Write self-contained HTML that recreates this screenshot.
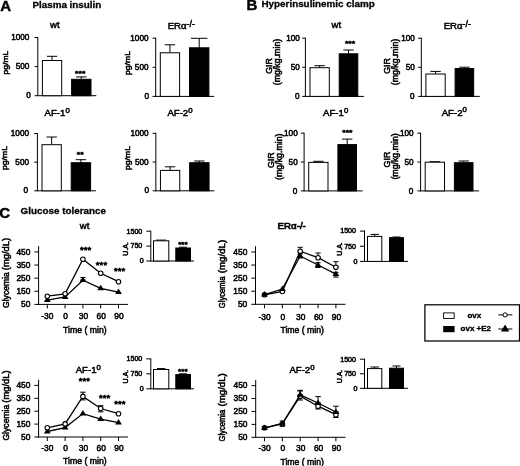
<!DOCTYPE html>
<html><head><meta charset="utf-8"><title>Figure</title>
<style>
html,body{margin:0;padding:0;background:#fff;}
body{width:520px;height:466px;overflow:hidden;}
svg{display:block;font-family:"Liberation Sans",sans-serif;fill:#000;}
</style></head><body>
<svg width="520" height="466" viewBox="0 0 520 466">
<rect x="0" y="0" width="520" height="466" fill="#fff"/>

<text transform="translate(0.20 10.50)" font-size="15" text-anchor="start" font-weight="bold" stroke="#000" stroke-width="0.45">A</text>
<text transform="translate(32.40 7.60)" font-size="9.85" text-anchor="start" font-weight="bold" stroke="#000" stroke-width="0.3">Plasma insulin</text>
<text transform="translate(246.40 10.30)" font-size="15" text-anchor="start" font-weight="bold" stroke="#000" stroke-width="0.45">B</text>
<text transform="translate(261.50 7.40)" font-size="9.85" text-anchor="start" font-weight="bold" stroke="#000" stroke-width="0.3">Hyperinsulinemic clamp</text>
<text transform="translate(-0.70 218.00)" font-size="15" text-anchor="start" font-weight="bold" stroke="#000" stroke-width="0.45">C</text>
<text transform="translate(20.60 214.00)" font-size="9.85" text-anchor="start" font-weight="bold" stroke="#000" stroke-width="0.3">Glucose tolerance</text>
<line x1="37.80" y1="37.00" x2="37.80" y2="96.20" stroke="#000" stroke-width="1.0"/>
<line x1="34.60" y1="95.70" x2="96.30" y2="95.70" stroke="#000" stroke-width="1.0"/>
<text transform="translate(30.90 98.37)" font-size="8.2" text-anchor="end" stroke="#000" stroke-width="0.5">0</text>
<line x1="34.60" y1="66.60" x2="37.80" y2="66.60" stroke="#000" stroke-width="1.0"/>
<text transform="translate(29.40 69.27)" font-size="8.2" text-anchor="end" stroke="#000" stroke-width="0.5">500</text>
<line x1="34.60" y1="37.50" x2="37.80" y2="37.50" stroke="#000" stroke-width="1.0"/>
<text transform="translate(29.40 40.16)" font-size="8.2" text-anchor="end" stroke="#000" stroke-width="0.5">1000</text>
<line x1="52.05" y1="56.30" x2="52.05" y2="60.50" stroke="#000" stroke-width="1.0"/>
<line x1="46.85" y1="56.30" x2="57.25" y2="56.30" stroke="#000" stroke-width="1.0"/>
<rect x="42.40" y="60.50" width="19.30" height="35.20" fill="#fff" stroke="#000" stroke-width="1.0"/>
<line x1="81.30" y1="76.90" x2="81.30" y2="79.30" stroke="#000" stroke-width="1.0"/>
<line x1="76.10" y1="76.90" x2="86.50" y2="76.90" stroke="#000" stroke-width="1.0"/>
<rect x="71.60" y="79.30" width="19.40" height="16.40" fill="#000" stroke="#000" stroke-width="1.0"/>
<text transform="translate(50.00 27.90)" font-size="9.6" text-anchor="start" stroke="#000" stroke-width="0.5">wt</text>
<text transform="translate(80.20 75.54) scale(1.1 1)" font-size="8.0" text-anchor="middle" stroke="#000" stroke-width="0.6">***</text>
<text transform="translate(8.10 62.60) rotate(-90) scale(1.13 1)" font-size="7.6" text-anchor="middle" stroke="#000" stroke-width="0.5">pg/mL</text>
<line x1="155.70" y1="37.70" x2="155.70" y2="96.90" stroke="#000" stroke-width="1.0"/>
<line x1="152.50" y1="96.40" x2="214.20" y2="96.40" stroke="#000" stroke-width="1.0"/>
<text transform="translate(149.00 99.07)" font-size="8.2" text-anchor="end" stroke="#000" stroke-width="0.5">0</text>
<line x1="152.50" y1="67.30" x2="155.70" y2="67.30" stroke="#000" stroke-width="1.0"/>
<text transform="translate(148.50 69.97)" font-size="8.2" text-anchor="end" stroke="#000" stroke-width="0.5">500</text>
<line x1="152.50" y1="38.20" x2="155.70" y2="38.20" stroke="#000" stroke-width="1.0"/>
<text transform="translate(148.50 40.87)" font-size="8.2" text-anchor="end" stroke="#000" stroke-width="0.5">1000</text>
<line x1="169.95" y1="44.80" x2="169.95" y2="52.80" stroke="#000" stroke-width="1.0"/>
<line x1="164.75" y1="44.80" x2="175.15" y2="44.80" stroke="#000" stroke-width="1.0"/>
<rect x="160.30" y="52.80" width="19.30" height="43.60" fill="#fff" stroke="#000" stroke-width="1.0"/>
<line x1="199.20" y1="38.30" x2="199.20" y2="47.80" stroke="#000" stroke-width="1.0"/>
<line x1="191.00" y1="38.30" x2="207.40" y2="38.30" stroke="#000" stroke-width="1.0"/>
<rect x="189.50" y="47.80" width="19.40" height="48.60" fill="#000" stroke="#000" stroke-width="1.0"/>
<text transform="translate(167.70 28.60)" font-size="9.6" text-anchor="start" stroke="#000" stroke-width="0.5">ERα<tspan dy="-1.5" font-size="8.8">-/-</tspan></text>
<text transform="translate(129.80 63.00) rotate(-90) scale(1.13 1)" font-size="7.6" text-anchor="middle" stroke="#000" stroke-width="0.5">pg/mL</text>
<line x1="37.40" y1="133.00" x2="37.40" y2="191.30" stroke="#000" stroke-width="1.0"/>
<line x1="34.20" y1="190.80" x2="95.90" y2="190.80" stroke="#000" stroke-width="1.0"/>
<text transform="translate(28.10 193.47)" font-size="8.2" text-anchor="end" stroke="#000" stroke-width="0.5">0</text>
<line x1="34.20" y1="162.15" x2="37.40" y2="162.15" stroke="#000" stroke-width="1.0"/>
<text transform="translate(29.00 164.81)" font-size="8.2" text-anchor="end" stroke="#000" stroke-width="0.5">500</text>
<line x1="34.20" y1="133.50" x2="37.40" y2="133.50" stroke="#000" stroke-width="1.0"/>
<text transform="translate(29.00 136.16)" font-size="8.2" text-anchor="end" stroke="#000" stroke-width="0.5">1000</text>
<line x1="51.65" y1="137.00" x2="51.65" y2="144.70" stroke="#000" stroke-width="1.0"/>
<line x1="46.45" y1="137.00" x2="56.85" y2="137.00" stroke="#000" stroke-width="1.0"/>
<rect x="42.00" y="144.70" width="19.30" height="46.10" fill="#fff" stroke="#000" stroke-width="1.0"/>
<line x1="80.90" y1="159.70" x2="80.90" y2="162.70" stroke="#000" stroke-width="1.0"/>
<line x1="75.70" y1="159.70" x2="86.10" y2="159.70" stroke="#000" stroke-width="1.0"/>
<rect x="71.20" y="162.70" width="19.40" height="28.10" fill="#000" stroke="#000" stroke-width="1.0"/>
<text transform="translate(44.60 115.80)" font-size="9.6" text-anchor="start" stroke="#000" stroke-width="0.5">AF-1<tspan dy="-3.2" font-size="7.8">0</tspan></text>
<text transform="translate(80.20 156.74) scale(1.1 1)" font-size="8.0" text-anchor="middle" stroke="#000" stroke-width="0.6">**</text>
<text transform="translate(6.70 158.00) rotate(-90) scale(1.13 1)" font-size="7.6" text-anchor="middle" stroke="#000" stroke-width="0.5">pg/mL</text>
<line x1="155.85" y1="132.80" x2="155.85" y2="191.30" stroke="#000" stroke-width="1.0"/>
<line x1="152.65" y1="190.80" x2="214.35" y2="190.80" stroke="#000" stroke-width="1.0"/>
<text transform="translate(149.15 193.47)" font-size="8.2" text-anchor="end" stroke="#000" stroke-width="0.5">0</text>
<line x1="152.65" y1="162.05" x2="155.85" y2="162.05" stroke="#000" stroke-width="1.0"/>
<text transform="translate(148.65 164.72)" font-size="8.2" text-anchor="end" stroke="#000" stroke-width="0.5">500</text>
<line x1="152.65" y1="133.30" x2="155.85" y2="133.30" stroke="#000" stroke-width="1.0"/>
<text transform="translate(148.65 135.97)" font-size="8.2" text-anchor="end" stroke="#000" stroke-width="0.5">1000</text>
<line x1="170.10" y1="166.80" x2="170.10" y2="170.40" stroke="#000" stroke-width="1.0"/>
<line x1="164.90" y1="166.80" x2="175.30" y2="166.80" stroke="#000" stroke-width="1.0"/>
<rect x="160.45" y="170.40" width="19.30" height="20.40" fill="#fff" stroke="#000" stroke-width="1.0"/>
<line x1="199.35" y1="161.00" x2="199.35" y2="162.70" stroke="#000" stroke-width="1.0"/>
<line x1="194.15" y1="161.00" x2="204.55" y2="161.00" stroke="#000" stroke-width="1.0"/>
<rect x="189.65" y="162.70" width="19.40" height="28.10" fill="#000" stroke="#000" stroke-width="1.0"/>
<text transform="translate(167.40 115.80)" font-size="9.6" text-anchor="start" stroke="#000" stroke-width="0.5">AF-2<tspan dy="-3.2" font-size="7.8">0</tspan></text>
<text transform="translate(129.60 158.00) rotate(-90) scale(1.13 1)" font-size="7.6" text-anchor="middle" stroke="#000" stroke-width="0.5">pg/mL</text>
<line x1="305.40" y1="37.70" x2="305.40" y2="96.90" stroke="#000" stroke-width="1.0"/>
<line x1="302.20" y1="96.40" x2="363.90" y2="96.40" stroke="#000" stroke-width="1.0"/>
<text transform="translate(299.50 99.07)" font-size="8.2" text-anchor="end" stroke="#000" stroke-width="0.5">0</text>
<line x1="302.20" y1="67.30" x2="305.40" y2="67.30" stroke="#000" stroke-width="1.0"/>
<text transform="translate(299.80 69.97)" font-size="8.2" text-anchor="end" stroke="#000" stroke-width="0.5">50</text>
<line x1="302.20" y1="38.20" x2="305.40" y2="38.20" stroke="#000" stroke-width="1.0"/>
<text transform="translate(299.80 40.87)" font-size="8.2" text-anchor="end" stroke="#000" stroke-width="0.5">100</text>
<line x1="319.65" y1="65.70" x2="319.65" y2="67.70" stroke="#000" stroke-width="1.0"/>
<line x1="314.45" y1="65.70" x2="324.85" y2="65.70" stroke="#000" stroke-width="1.0"/>
<rect x="310.00" y="67.70" width="19.30" height="28.70" fill="#fff" stroke="#000" stroke-width="1.0"/>
<line x1="348.50" y1="50.00" x2="348.50" y2="53.80" stroke="#000" stroke-width="1.0"/>
<line x1="343.30" y1="50.00" x2="353.70" y2="50.00" stroke="#000" stroke-width="1.0"/>
<rect x="339.20" y="53.80" width="18.60" height="42.60" fill="#000" stroke="#000" stroke-width="1.0"/>
<text transform="translate(331.50 28.00)" font-size="9.6" text-anchor="start" stroke="#000" stroke-width="0.5">wt</text>
<text transform="translate(350.00 46.04) scale(1.1 1)" font-size="8.0" text-anchor="middle" stroke="#000" stroke-width="0.6">***</text>
<text transform="translate(272.10 65.90) rotate(-90) scale(1.07 1)" font-size="8.3" text-anchor="middle" stroke="#000" stroke-width="0.5">GIR</text>
<text transform="translate(279.80 62.00) rotate(-90) scale(1.06 1)" font-size="8.3" text-anchor="middle" stroke="#000" stroke-width="0.5">(mg/kg.min)</text>
<line x1="421.30" y1="37.70" x2="421.30" y2="96.90" stroke="#000" stroke-width="1.0"/>
<line x1="418.10" y1="96.40" x2="479.80" y2="96.40" stroke="#000" stroke-width="1.0"/>
<text transform="translate(414.50 99.07)" font-size="8.2" text-anchor="end" stroke="#000" stroke-width="0.5">0</text>
<line x1="418.10" y1="67.30" x2="421.30" y2="67.30" stroke="#000" stroke-width="1.0"/>
<text transform="translate(414.80 69.97)" font-size="8.2" text-anchor="end" stroke="#000" stroke-width="0.5">50</text>
<line x1="418.10" y1="38.20" x2="421.30" y2="38.20" stroke="#000" stroke-width="1.0"/>
<text transform="translate(414.80 40.87)" font-size="8.2" text-anchor="end" stroke="#000" stroke-width="0.5">100</text>
<line x1="435.55" y1="71.40" x2="435.55" y2="74.00" stroke="#000" stroke-width="1.0"/>
<line x1="430.35" y1="71.40" x2="440.75" y2="71.40" stroke="#000" stroke-width="1.0"/>
<rect x="425.90" y="74.00" width="19.30" height="22.40" fill="#fff" stroke="#000" stroke-width="1.0"/>
<line x1="464.40" y1="67.20" x2="464.40" y2="68.50" stroke="#000" stroke-width="1.0"/>
<line x1="459.20" y1="67.20" x2="469.60" y2="67.20" stroke="#000" stroke-width="1.0"/>
<rect x="455.10" y="68.50" width="18.60" height="27.90" fill="#000" stroke="#000" stroke-width="1.0"/>
<text transform="translate(443.70 28.60)" font-size="9.6" text-anchor="start" stroke="#000" stroke-width="0.5">ERα<tspan dy="-1.5" font-size="8.8">-/-</tspan></text>
<text transform="translate(390.40 65.90) rotate(-90) scale(1.07 1)" font-size="8.3" text-anchor="middle" stroke="#000" stroke-width="0.5">GIR</text>
<text transform="translate(398.10 62.00) rotate(-90) scale(1.06 1)" font-size="8.3" text-anchor="middle" stroke="#000" stroke-width="0.5">(mg/kg.min)</text>
<line x1="304.10" y1="132.70" x2="304.10" y2="191.40" stroke="#000" stroke-width="1.0"/>
<line x1="300.90" y1="190.90" x2="362.60" y2="190.90" stroke="#000" stroke-width="1.0"/>
<text transform="translate(297.40 193.56)" font-size="8.2" text-anchor="end" stroke="#000" stroke-width="0.5">0</text>
<line x1="300.90" y1="162.05" x2="304.10" y2="162.05" stroke="#000" stroke-width="1.0"/>
<text transform="translate(297.70 164.72)" font-size="8.2" text-anchor="end" stroke="#000" stroke-width="0.5">50</text>
<line x1="300.90" y1="133.20" x2="304.10" y2="133.20" stroke="#000" stroke-width="1.0"/>
<text transform="translate(297.70 135.86)" font-size="8.2" text-anchor="end" stroke="#000" stroke-width="0.5">100</text>
<line x1="318.35" y1="161.30" x2="318.35" y2="162.40" stroke="#000" stroke-width="1.0"/>
<line x1="313.15" y1="161.30" x2="323.55" y2="161.30" stroke="#000" stroke-width="1.0"/>
<rect x="308.70" y="162.40" width="19.30" height="28.50" fill="#fff" stroke="#000" stroke-width="1.0"/>
<line x1="347.20" y1="139.10" x2="347.20" y2="144.60" stroke="#000" stroke-width="1.0"/>
<line x1="342.00" y1="139.10" x2="352.40" y2="139.10" stroke="#000" stroke-width="1.0"/>
<rect x="337.90" y="144.60" width="18.60" height="46.30" fill="#000" stroke="#000" stroke-width="1.0"/>
<text transform="translate(323.10 115.70)" font-size="9.6" text-anchor="start" stroke="#000" stroke-width="0.5">AF-1<tspan dy="-3.2" font-size="7.8">0</tspan></text>
<text transform="translate(347.40 135.44) scale(1.1 1)" font-size="8.0" text-anchor="middle" stroke="#000" stroke-width="0.6">***</text>
<text transform="translate(274.10 160.20) rotate(-90) scale(1.07 1)" font-size="8.3" text-anchor="middle" stroke="#000" stroke-width="0.5">GIR</text>
<text transform="translate(282.00 156.70) rotate(-90) scale(1.06 1)" font-size="8.3" text-anchor="middle" stroke="#000" stroke-width="0.5">(mg/kg.min)</text>
<line x1="420.60" y1="132.70" x2="420.60" y2="191.40" stroke="#000" stroke-width="1.0"/>
<line x1="417.40" y1="190.90" x2="479.10" y2="190.90" stroke="#000" stroke-width="1.0"/>
<text transform="translate(413.30 193.56)" font-size="8.2" text-anchor="end" stroke="#000" stroke-width="0.5">0</text>
<line x1="417.40" y1="162.05" x2="420.60" y2="162.05" stroke="#000" stroke-width="1.0"/>
<text transform="translate(413.60 164.72)" font-size="8.2" text-anchor="end" stroke="#000" stroke-width="0.5">50</text>
<line x1="417.40" y1="133.20" x2="420.60" y2="133.20" stroke="#000" stroke-width="1.0"/>
<text transform="translate(413.60 135.86)" font-size="8.2" text-anchor="end" stroke="#000" stroke-width="0.5">100</text>
<line x1="434.85" y1="161.70" x2="434.85" y2="162.20" stroke="#000" stroke-width="1.0"/>
<line x1="429.65" y1="161.70" x2="440.05" y2="161.70" stroke="#000" stroke-width="1.0"/>
<rect x="425.20" y="162.20" width="19.30" height="28.70" fill="#fff" stroke="#000" stroke-width="1.0"/>
<line x1="463.70" y1="161.00" x2="463.70" y2="162.70" stroke="#000" stroke-width="1.0"/>
<line x1="458.50" y1="161.00" x2="468.90" y2="161.00" stroke="#000" stroke-width="1.0"/>
<rect x="454.40" y="162.70" width="18.60" height="28.20" fill="#000" stroke="#000" stroke-width="1.0"/>
<text transform="translate(441.70 115.50)" font-size="9.6" text-anchor="start" stroke="#000" stroke-width="0.5">AF-2<tspan dy="-3.2" font-size="7.8">0</tspan></text>
<text transform="translate(389.90 159.60) rotate(-90) scale(1.07 1)" font-size="8.3" text-anchor="middle" stroke="#000" stroke-width="0.5">GIR</text>
<text transform="translate(397.50 156.40) rotate(-90) scale(1.06 1)" font-size="8.3" text-anchor="middle" stroke="#000" stroke-width="0.5">(mg/kg.min)</text>
<line x1="38.60" y1="246.12" x2="38.60" y2="304.90" stroke="#000" stroke-width="1.0"/>
<line x1="34.40" y1="304.40" x2="128.10" y2="304.40" stroke="#000" stroke-width="1.0"/>
<text transform="translate(30.40 307.13)" font-size="8.4" text-anchor="end" stroke="#000" stroke-width="0.5">50</text>
<line x1="34.40" y1="291.27" x2="38.60" y2="291.27" stroke="#000" stroke-width="1.0"/>
<text transform="translate(30.40 294.00)" font-size="8.4" text-anchor="end" stroke="#000" stroke-width="0.5">150</text>
<line x1="34.40" y1="278.15" x2="38.60" y2="278.15" stroke="#000" stroke-width="1.0"/>
<text transform="translate(30.40 280.88)" font-size="8.4" text-anchor="end" stroke="#000" stroke-width="0.5">250</text>
<line x1="34.40" y1="265.02" x2="38.60" y2="265.02" stroke="#000" stroke-width="1.0"/>
<text transform="translate(30.40 267.75)" font-size="8.4" text-anchor="end" stroke="#000" stroke-width="0.5">350</text>
<line x1="34.40" y1="251.90" x2="38.60" y2="251.90" stroke="#000" stroke-width="1.0"/>
<text transform="translate(30.40 254.63)" font-size="8.4" text-anchor="end" stroke="#000" stroke-width="0.5">450</text>
<line x1="47.30" y1="304.40" x2="47.30" y2="308.40" stroke="#000" stroke-width="1.0"/>
<text transform="translate(47.30 319.15)" font-size="8.4" text-anchor="middle" stroke="#000" stroke-width="0.5">-30</text>
<line x1="65.10" y1="304.40" x2="65.10" y2="308.40" stroke="#000" stroke-width="1.0"/>
<text transform="translate(65.60 319.15)" font-size="8.4" text-anchor="middle" stroke="#000" stroke-width="0.5">0</text>
<line x1="82.90" y1="304.40" x2="82.90" y2="308.40" stroke="#000" stroke-width="1.0"/>
<text transform="translate(83.40 319.15)" font-size="8.4" text-anchor="middle" stroke="#000" stroke-width="0.5">30</text>
<line x1="100.70" y1="304.40" x2="100.70" y2="308.40" stroke="#000" stroke-width="1.0"/>
<text transform="translate(101.20 319.15)" font-size="8.4" text-anchor="middle" stroke="#000" stroke-width="0.5">60</text>
<line x1="118.50" y1="304.40" x2="118.50" y2="308.40" stroke="#000" stroke-width="1.0"/>
<text transform="translate(119.00 319.15)" font-size="8.4" text-anchor="middle" stroke="#000" stroke-width="0.5">90</text>
<text transform="translate(84.90 332.60)" font-size="8.7" text-anchor="middle" stroke="#000" stroke-width="0.5">Time ( min)</text>
<text transform="translate(8.70 308.05) rotate(-90) scale(1.04 1)" font-size="8.3" text-anchor="start" stroke="#000" stroke-width="0.5">Glycemia</text>
<text transform="translate(8.70 237.85) rotate(-90) scale(1.13 1)" font-size="8.3" text-anchor="end" stroke="#000" stroke-width="0.5">(mg/dL)</text>
<line x1="82.90" y1="277.50" x2="82.90" y2="280.00" stroke="#000" stroke-width="1"/>
<line x1="80.40" y1="277.50" x2="85.40" y2="277.50" stroke="#000" stroke-width="1"/>
<line x1="80.40" y1="280.00" x2="85.40" y2="280.00" stroke="#000" stroke-width="1"/>
<polyline points="47.30,300.20 65.10,297.00 82.90,280.20 100.70,288.30 118.50,292.10" fill="none" stroke="#000" stroke-width="1.3"/>
<polygon points="43.90,302.10 50.70,302.10 47.30,296.60" fill="#000"/>
<polygon points="61.70,298.90 68.50,298.90 65.10,293.40" fill="#000"/>
<polygon points="79.50,282.10 86.30,282.10 82.90,276.60" fill="#000"/>
<polygon points="97.30,290.20 104.10,290.20 100.70,284.70" fill="#000"/>
<polygon points="115.10,294.00 121.90,294.00 118.50,288.50" fill="#000"/>
<polyline points="47.30,296.20 65.10,293.80 82.90,259.20 100.70,273.30 118.50,281.70" fill="none" stroke="#000" stroke-width="1.3"/>
<circle cx="47.30" cy="296.20" r="2.25" fill="#fff" stroke="#000" stroke-width="1.1"/>
<circle cx="65.10" cy="293.80" r="2.25" fill="#fff" stroke="#000" stroke-width="1.1"/>
<circle cx="82.90" cy="259.20" r="2.25" fill="#fff" stroke="#000" stroke-width="1.1"/>
<circle cx="100.70" cy="273.30" r="2.25" fill="#fff" stroke="#000" stroke-width="1.1"/>
<circle cx="118.50" cy="281.70" r="2.25" fill="#fff" stroke="#000" stroke-width="1.1"/>
<text transform="translate(85.60 252.90) scale(1.13 1)" font-size="8.6" text-anchor="middle" stroke="#000" stroke-width="0.6">***</text>
<text transform="translate(101.50 268.10) scale(1.13 1)" font-size="8.6" text-anchor="middle" stroke="#000" stroke-width="0.6">***</text>
<text transform="translate(119.60 273.90) scale(1.13 1)" font-size="8.6" text-anchor="middle" stroke="#000" stroke-width="0.6">***</text>
<text transform="translate(79.80 229.00)" font-size="9.6" text-anchor="start" stroke="#000" stroke-width="0.5">wt</text>
<line x1="255.50" y1="246.25" x2="255.50" y2="304.80" stroke="#000" stroke-width="1.0"/>
<line x1="251.30" y1="304.30" x2="345.50" y2="304.30" stroke="#000" stroke-width="1.0"/>
<text transform="translate(247.30 307.03)" font-size="8.4" text-anchor="end" stroke="#000" stroke-width="0.5">50</text>
<line x1="251.30" y1="291.23" x2="255.50" y2="291.23" stroke="#000" stroke-width="1.0"/>
<text transform="translate(247.30 293.96)" font-size="8.4" text-anchor="end" stroke="#000" stroke-width="0.5">150</text>
<line x1="251.30" y1="278.15" x2="255.50" y2="278.15" stroke="#000" stroke-width="1.0"/>
<text transform="translate(247.30 280.88)" font-size="8.4" text-anchor="end" stroke="#000" stroke-width="0.5">250</text>
<line x1="251.30" y1="265.07" x2="255.50" y2="265.07" stroke="#000" stroke-width="1.0"/>
<text transform="translate(247.30 267.81)" font-size="8.4" text-anchor="end" stroke="#000" stroke-width="0.5">350</text>
<line x1="251.30" y1="252.00" x2="255.50" y2="252.00" stroke="#000" stroke-width="1.0"/>
<text transform="translate(247.30 254.73)" font-size="8.4" text-anchor="end" stroke="#000" stroke-width="0.5">450</text>
<line x1="264.50" y1="304.30" x2="264.50" y2="308.30" stroke="#000" stroke-width="1.0"/>
<text transform="translate(264.50 319.90)" font-size="8.4" text-anchor="middle" stroke="#000" stroke-width="0.5">-30</text>
<line x1="282.35" y1="304.30" x2="282.35" y2="308.30" stroke="#000" stroke-width="1.0"/>
<text transform="translate(282.85 319.90)" font-size="8.4" text-anchor="middle" stroke="#000" stroke-width="0.5">0</text>
<line x1="300.20" y1="304.30" x2="300.20" y2="308.30" stroke="#000" stroke-width="1.0"/>
<text transform="translate(300.70 319.90)" font-size="8.4" text-anchor="middle" stroke="#000" stroke-width="0.5">30</text>
<line x1="318.05" y1="304.30" x2="318.05" y2="308.30" stroke="#000" stroke-width="1.0"/>
<text transform="translate(318.55 319.90)" font-size="8.4" text-anchor="middle" stroke="#000" stroke-width="0.5">60</text>
<line x1="335.90" y1="304.30" x2="335.90" y2="308.30" stroke="#000" stroke-width="1.0"/>
<text transform="translate(336.40 319.90)" font-size="8.4" text-anchor="middle" stroke="#000" stroke-width="0.5">90</text>
<text transform="translate(302.20 333.30)" font-size="8.7" text-anchor="middle" stroke="#000" stroke-width="0.5">Time ( min)</text>
<text transform="translate(224.80 308.25) rotate(-90) scale(0.92 1)" font-size="8.3" text-anchor="start" stroke="#000" stroke-width="0.5">Glycemia</text>
<text transform="translate(224.80 239.85) rotate(-90) scale(1.17 1)" font-size="8.3" text-anchor="end" stroke="#000" stroke-width="0.5">(mg/dL)</text>
<line x1="300.20" y1="247.30" x2="300.20" y2="251.20" stroke="#000" stroke-width="1"/>
<line x1="297.60" y1="247.30" x2="302.80" y2="247.30" stroke="#000" stroke-width="1"/>
<line x1="297.60" y1="251.20" x2="302.80" y2="251.20" stroke="#000" stroke-width="1"/>
<line x1="318.05" y1="253.00" x2="318.05" y2="257.70" stroke="#000" stroke-width="1"/>
<line x1="315.45" y1="253.00" x2="320.65" y2="253.00" stroke="#000" stroke-width="1"/>
<line x1="315.45" y1="257.70" x2="320.65" y2="257.70" stroke="#000" stroke-width="1"/>
<line x1="335.90" y1="261.70" x2="335.90" y2="267.30" stroke="#000" stroke-width="1"/>
<line x1="333.30" y1="261.70" x2="338.50" y2="261.70" stroke="#000" stroke-width="1"/>
<line x1="333.30" y1="267.30" x2="338.50" y2="267.30" stroke="#000" stroke-width="1"/>
<polyline points="264.50,294.80 282.35,291.50 300.20,251.20 318.05,257.70 335.90,267.30" fill="none" stroke="#000" stroke-width="1.3"/>
<circle cx="264.50" cy="294.80" r="2.25" fill="#fff" stroke="#000" stroke-width="1.1"/>
<circle cx="282.35" cy="291.50" r="2.25" fill="#fff" stroke="#000" stroke-width="1.1"/>
<circle cx="300.20" cy="251.20" r="2.25" fill="#fff" stroke="#000" stroke-width="1.1"/>
<circle cx="318.05" cy="257.70" r="2.25" fill="#fff" stroke="#000" stroke-width="1.1"/>
<circle cx="335.90" cy="267.30" r="2.25" fill="#fff" stroke="#000" stroke-width="1.1"/>
<line x1="318.05" y1="262.70" x2="318.05" y2="267.50" stroke="#000" stroke-width="1"/>
<line x1="315.45" y1="262.70" x2="320.65" y2="262.70" stroke="#000" stroke-width="1"/>
<line x1="315.45" y1="267.50" x2="320.65" y2="267.50" stroke="#000" stroke-width="1"/>
<line x1="335.90" y1="272.30" x2="335.90" y2="277.00" stroke="#000" stroke-width="1"/>
<line x1="333.30" y1="272.30" x2="338.50" y2="272.30" stroke="#000" stroke-width="1"/>
<line x1="333.30" y1="277.00" x2="338.50" y2="277.00" stroke="#000" stroke-width="1"/>
<line x1="300.20" y1="253.80" x2="300.20" y2="258.00" stroke="#000" stroke-width="1"/>
<line x1="297.60" y1="253.80" x2="302.80" y2="253.80" stroke="#000" stroke-width="1"/>
<line x1="297.60" y1="258.00" x2="302.80" y2="258.00" stroke="#000" stroke-width="1"/>
<polyline points="264.50,294.60 282.35,289.00 300.20,256.00 318.05,265.00 335.90,274.20" fill="none" stroke="#000" stroke-width="1.3"/>
<polygon points="261.10,296.50 267.90,296.50 264.50,291.00" fill="#000"/>
<polygon points="278.95,290.90 285.75,290.90 282.35,285.40" fill="#000"/>
<polygon points="296.80,257.90 303.60,257.90 300.20,252.40" fill="#000"/>
<polygon points="314.65,266.90 321.45,266.90 318.05,261.40" fill="#000"/>
<polygon points="332.50,276.10 339.30,276.10 335.90,270.60" fill="#000"/>
<text transform="translate(277.60 229.00)" font-size="9.7" text-anchor="start" stroke="#000" stroke-width="0.7">ERα-/-</text>
<line x1="38.60" y1="379.72" x2="38.60" y2="437.50" stroke="#000" stroke-width="1.0"/>
<line x1="34.40" y1="437.00" x2="128.10" y2="437.00" stroke="#000" stroke-width="1.0"/>
<text transform="translate(30.40 439.73)" font-size="8.4" text-anchor="end" stroke="#000" stroke-width="0.5">50</text>
<line x1="34.40" y1="424.10" x2="38.60" y2="424.10" stroke="#000" stroke-width="1.0"/>
<text transform="translate(30.40 426.83)" font-size="8.4" text-anchor="end" stroke="#000" stroke-width="0.5">150</text>
<line x1="34.40" y1="411.20" x2="38.60" y2="411.20" stroke="#000" stroke-width="1.0"/>
<text transform="translate(30.40 413.93)" font-size="8.4" text-anchor="end" stroke="#000" stroke-width="0.5">250</text>
<line x1="34.40" y1="398.30" x2="38.60" y2="398.30" stroke="#000" stroke-width="1.0"/>
<text transform="translate(30.40 401.03)" font-size="8.4" text-anchor="end" stroke="#000" stroke-width="0.5">350</text>
<line x1="34.40" y1="385.40" x2="38.60" y2="385.40" stroke="#000" stroke-width="1.0"/>
<text transform="translate(30.40 388.13)" font-size="8.4" text-anchor="end" stroke="#000" stroke-width="0.5">450</text>
<line x1="47.30" y1="437.00" x2="47.30" y2="441.00" stroke="#000" stroke-width="1.0"/>
<text transform="translate(47.30 450.85)" font-size="8.4" text-anchor="middle" stroke="#000" stroke-width="0.5">-30</text>
<line x1="65.10" y1="437.00" x2="65.10" y2="441.00" stroke="#000" stroke-width="1.0"/>
<text transform="translate(65.60 450.85)" font-size="8.4" text-anchor="middle" stroke="#000" stroke-width="0.5">0</text>
<line x1="82.90" y1="437.00" x2="82.90" y2="441.00" stroke="#000" stroke-width="1.0"/>
<text transform="translate(83.40 450.85)" font-size="8.4" text-anchor="middle" stroke="#000" stroke-width="0.5">30</text>
<line x1="100.70" y1="437.00" x2="100.70" y2="441.00" stroke="#000" stroke-width="1.0"/>
<text transform="translate(101.20 450.85)" font-size="8.4" text-anchor="middle" stroke="#000" stroke-width="0.5">60</text>
<line x1="118.50" y1="437.00" x2="118.50" y2="441.00" stroke="#000" stroke-width="1.0"/>
<text transform="translate(119.00 450.85)" font-size="8.4" text-anchor="middle" stroke="#000" stroke-width="0.5">90</text>
<text transform="translate(84.90 463.80)" font-size="8.7" text-anchor="middle" stroke="#000" stroke-width="0.5">Time ( min)</text>
<text transform="translate(8.70 440.60) rotate(-90) scale(1.04 1)" font-size="8.3" text-anchor="start" stroke="#000" stroke-width="0.5">Glycemia</text>
<text transform="translate(8.70 370.40) rotate(-90) scale(1.13 1)" font-size="8.3" text-anchor="end" stroke="#000" stroke-width="0.5">(mg/dL)</text>
<polyline points="47.30,431.50 65.10,427.60 82.90,413.60 100.70,419.20 118.50,422.60" fill="none" stroke="#000" stroke-width="1.3"/>
<polygon points="43.90,433.40 50.70,433.40 47.30,427.90" fill="#000"/>
<polygon points="61.70,429.50 68.50,429.50 65.10,424.00" fill="#000"/>
<polygon points="79.50,415.50 86.30,415.50 82.90,410.00" fill="#000"/>
<polygon points="97.30,421.10 104.10,421.10 100.70,415.60" fill="#000"/>
<polygon points="115.10,424.50 121.90,424.50 118.50,419.00" fill="#000"/>
<line x1="82.90" y1="392.20" x2="82.90" y2="399.90" stroke="#000" stroke-width="1"/>
<line x1="80.10" y1="392.20" x2="85.70" y2="392.20" stroke="#000" stroke-width="1"/>
<line x1="80.10" y1="399.90" x2="85.70" y2="399.90" stroke="#000" stroke-width="1"/>
<line x1="100.70" y1="405.70" x2="100.70" y2="411.80" stroke="#000" stroke-width="1"/>
<line x1="97.90" y1="405.70" x2="103.50" y2="405.70" stroke="#000" stroke-width="1"/>
<line x1="97.90" y1="411.80" x2="103.50" y2="411.80" stroke="#000" stroke-width="1"/>
<polyline points="47.30,427.80 65.10,423.90 82.90,396.40 100.70,408.50 118.50,413.70" fill="none" stroke="#000" stroke-width="1.3"/>
<circle cx="47.30" cy="427.80" r="2.25" fill="#fff" stroke="#000" stroke-width="1.1"/>
<circle cx="65.10" cy="423.90" r="2.25" fill="#fff" stroke="#000" stroke-width="1.1"/>
<circle cx="82.90" cy="396.40" r="2.25" fill="#fff" stroke="#000" stroke-width="1.1"/>
<circle cx="100.70" cy="408.50" r="2.25" fill="#fff" stroke="#000" stroke-width="1.1"/>
<circle cx="118.50" cy="413.70" r="2.25" fill="#fff" stroke="#000" stroke-width="1.1"/>
<text transform="translate(84.40 384.40) scale(1.13 1)" font-size="8.6" text-anchor="middle" stroke="#000" stroke-width="0.6">***</text>
<text transform="translate(104.60 401.10) scale(1.13 1)" font-size="8.6" text-anchor="middle" stroke="#000" stroke-width="0.6">***</text>
<text transform="translate(119.80 407.40) scale(1.13 1)" font-size="8.6" text-anchor="middle" stroke="#000" stroke-width="0.6">***</text>
<text transform="translate(75.70 372.90)" font-size="9.6" text-anchor="start" stroke="#000" stroke-width="0.5">AF-1<tspan dy="-3.2" font-size="7.8">0</tspan></text>
<line x1="255.70" y1="379.91" x2="255.70" y2="437.80" stroke="#000" stroke-width="1.0"/>
<line x1="251.50" y1="437.30" x2="345.50" y2="437.30" stroke="#000" stroke-width="1.0"/>
<text transform="translate(247.50 440.03)" font-size="8.4" text-anchor="end" stroke="#000" stroke-width="0.5">50</text>
<line x1="251.50" y1="424.38" x2="255.70" y2="424.38" stroke="#000" stroke-width="1.0"/>
<text transform="translate(247.50 427.11)" font-size="8.4" text-anchor="end" stroke="#000" stroke-width="0.5">150</text>
<line x1="251.50" y1="411.45" x2="255.70" y2="411.45" stroke="#000" stroke-width="1.0"/>
<text transform="translate(247.50 414.18)" font-size="8.4" text-anchor="end" stroke="#000" stroke-width="0.5">250</text>
<line x1="251.50" y1="398.53" x2="255.70" y2="398.53" stroke="#000" stroke-width="1.0"/>
<text transform="translate(247.50 401.26)" font-size="8.4" text-anchor="end" stroke="#000" stroke-width="0.5">350</text>
<line x1="251.50" y1="385.60" x2="255.70" y2="385.60" stroke="#000" stroke-width="1.0"/>
<text transform="translate(247.50 388.33)" font-size="8.4" text-anchor="end" stroke="#000" stroke-width="0.5">450</text>
<line x1="264.50" y1="437.30" x2="264.50" y2="441.30" stroke="#000" stroke-width="1.0"/>
<text transform="translate(264.50 451.30)" font-size="8.4" text-anchor="middle" stroke="#000" stroke-width="0.5">-30</text>
<line x1="282.35" y1="437.30" x2="282.35" y2="441.30" stroke="#000" stroke-width="1.0"/>
<text transform="translate(282.85 451.30)" font-size="8.4" text-anchor="middle" stroke="#000" stroke-width="0.5">0</text>
<line x1="300.20" y1="437.30" x2="300.20" y2="441.30" stroke="#000" stroke-width="1.0"/>
<text transform="translate(300.70 451.30)" font-size="8.4" text-anchor="middle" stroke="#000" stroke-width="0.5">30</text>
<line x1="318.05" y1="437.30" x2="318.05" y2="441.30" stroke="#000" stroke-width="1.0"/>
<text transform="translate(318.55 451.30)" font-size="8.4" text-anchor="middle" stroke="#000" stroke-width="0.5">60</text>
<line x1="335.90" y1="437.30" x2="335.90" y2="441.30" stroke="#000" stroke-width="1.0"/>
<text transform="translate(336.40 451.30)" font-size="8.4" text-anchor="middle" stroke="#000" stroke-width="0.5">90</text>
<text transform="translate(302.20 464.90)" font-size="8.7" text-anchor="middle" stroke="#000" stroke-width="0.5">Time ( min)</text>
<text transform="translate(224.80 441.55) rotate(-90) scale(0.92 1)" font-size="8.3" text-anchor="start" stroke="#000" stroke-width="0.5">Glycemia</text>
<text transform="translate(224.80 373.15) rotate(-90) scale(1.17 1)" font-size="8.3" text-anchor="end" stroke="#000" stroke-width="0.5">(mg/dL)</text>
<line x1="282.35" y1="421.00" x2="282.35" y2="426.30" stroke="#000" stroke-width="1"/>
<line x1="279.75" y1="421.00" x2="284.95" y2="421.00" stroke="#000" stroke-width="1"/>
<line x1="279.75" y1="426.30" x2="284.95" y2="426.30" stroke="#000" stroke-width="1"/>
<line x1="300.20" y1="391.00" x2="300.20" y2="400.00" stroke="#000" stroke-width="1"/>
<line x1="297.40" y1="391.00" x2="303.00" y2="391.00" stroke="#000" stroke-width="1"/>
<line x1="297.40" y1="400.00" x2="303.00" y2="400.00" stroke="#000" stroke-width="1"/>
<line x1="318.05" y1="403.40" x2="318.05" y2="409.00" stroke="#000" stroke-width="1"/>
<line x1="315.25" y1="403.40" x2="320.85" y2="403.40" stroke="#000" stroke-width="1"/>
<line x1="315.25" y1="409.00" x2="320.85" y2="409.00" stroke="#000" stroke-width="1"/>
<line x1="335.90" y1="412.00" x2="335.90" y2="417.50" stroke="#000" stroke-width="1"/>
<line x1="333.10" y1="412.00" x2="338.70" y2="412.00" stroke="#000" stroke-width="1"/>
<line x1="333.10" y1="417.50" x2="338.70" y2="417.50" stroke="#000" stroke-width="1"/>
<polyline points="264.50,427.80 282.35,423.70 300.20,396.20 318.05,406.20 335.90,414.70" fill="none" stroke="#000" stroke-width="1.3"/>
<circle cx="264.50" cy="427.80" r="2.25" fill="#fff" stroke="#000" stroke-width="1.1"/>
<circle cx="282.35" cy="423.70" r="2.25" fill="#fff" stroke="#000" stroke-width="1.1"/>
<circle cx="300.20" cy="396.20" r="2.25" fill="#fff" stroke="#000" stroke-width="1.1"/>
<circle cx="318.05" cy="406.20" r="2.25" fill="#fff" stroke="#000" stroke-width="1.1"/>
<circle cx="335.90" cy="414.70" r="2.25" fill="#fff" stroke="#000" stroke-width="1.1"/>
<line x1="300.20" y1="390.30" x2="300.20" y2="395.30" stroke="#000" stroke-width="1"/>
<line x1="297.40" y1="390.30" x2="303.00" y2="390.30" stroke="#000" stroke-width="1"/>
<line x1="297.40" y1="395.30" x2="303.00" y2="395.30" stroke="#000" stroke-width="1"/>
<line x1="318.05" y1="396.60" x2="318.05" y2="403.00" stroke="#000" stroke-width="1"/>
<line x1="315.25" y1="396.60" x2="320.85" y2="396.60" stroke="#000" stroke-width="1"/>
<line x1="315.25" y1="403.00" x2="320.85" y2="403.00" stroke="#000" stroke-width="1"/>
<line x1="335.90" y1="406.20" x2="335.90" y2="412.00" stroke="#000" stroke-width="1"/>
<line x1="333.10" y1="406.20" x2="338.70" y2="406.20" stroke="#000" stroke-width="1"/>
<line x1="333.10" y1="412.00" x2="338.70" y2="412.00" stroke="#000" stroke-width="1"/>
<polyline points="264.50,428.20 282.35,423.50 300.20,394.90 318.05,403.00 335.90,412.00" fill="none" stroke="#000" stroke-width="1.3"/>
<polygon points="261.10,430.10 267.90,430.10 264.50,424.60" fill="#000"/>
<polygon points="278.95,425.40 285.75,425.40 282.35,419.90" fill="#000"/>
<polygon points="296.80,396.80 303.60,396.80 300.20,391.30" fill="#000"/>
<polygon points="314.65,404.90 321.45,404.90 318.05,399.40" fill="#000"/>
<polygon points="332.50,413.90 339.30,413.90 335.90,408.40" fill="#000"/>
<text transform="translate(289.40 372.90)" font-size="9.6" text-anchor="start" stroke="#000" stroke-width="0.5">AF-2<tspan dy="-3.2" font-size="7.8">0</tspan></text>
<line x1="150.80" y1="230.70" x2="150.80" y2="261.50" stroke="#000" stroke-width="1.0"/>
<line x1="146.30" y1="261.00" x2="194.00" y2="261.00" stroke="#000" stroke-width="1.0"/>
<text transform="translate(143.80 263.31)" font-size="7.1" text-anchor="end" stroke="#000" stroke-width="0.5">0</text>
<line x1="146.30" y1="246.10" x2="150.80" y2="246.10" stroke="#000" stroke-width="1.0"/>
<text transform="translate(142.30 248.41)" font-size="7.1" text-anchor="end" stroke="#000" stroke-width="0.5">750</text>
<line x1="146.30" y1="231.20" x2="150.80" y2="231.20" stroke="#000" stroke-width="1.0"/>
<text transform="translate(142.30 233.51)" font-size="7.1" text-anchor="end" stroke="#000" stroke-width="0.5">1500</text>
<line x1="161.15" y1="240.10" x2="161.15" y2="240.80" stroke="#000" stroke-width="1.0"/>
<line x1="156.20" y1="240.10" x2="166.20" y2="240.10" stroke="#000" stroke-width="1.0"/>
<rect x="153.50" y="240.80" width="15.30" height="20.20" fill="#fff" stroke="#000" stroke-width="1.0"/>
<line x1="183.15" y1="247.20" x2="183.15" y2="248.00" stroke="#000" stroke-width="1.0"/>
<line x1="179.00" y1="247.20" x2="187.00" y2="247.20" stroke="#000" stroke-width="1.0"/>
<rect x="175.80" y="248.00" width="14.70" height="13.00" fill="#000" stroke="#000" stroke-width="1.0"/>
<text transform="translate(127.50 248.90) rotate(-90)" font-size="7" text-anchor="middle" stroke="#000" stroke-width="0.5">U.A.</text>
<text transform="translate(182.90 246.58) scale(1.1 1)" font-size="7.4" text-anchor="middle" stroke="#000" stroke-width="0.6">***</text>
<line x1="364.50" y1="230.60" x2="364.50" y2="261.90" stroke="#000" stroke-width="1.0"/>
<line x1="360.00" y1="261.40" x2="408.00" y2="261.40" stroke="#000" stroke-width="1.0"/>
<text transform="translate(357.50 263.71)" font-size="7.1" text-anchor="end" stroke="#000" stroke-width="0.5">0</text>
<line x1="360.00" y1="246.25" x2="364.50" y2="246.25" stroke="#000" stroke-width="1.0"/>
<text transform="translate(356.00 248.56)" font-size="7.1" text-anchor="end" stroke="#000" stroke-width="0.5">750</text>
<line x1="360.00" y1="231.10" x2="364.50" y2="231.10" stroke="#000" stroke-width="1.0"/>
<text transform="translate(356.00 233.41)" font-size="7.1" text-anchor="end" stroke="#000" stroke-width="0.5">1500</text>
<line x1="374.65" y1="234.40" x2="374.65" y2="236.40" stroke="#000" stroke-width="1.0"/>
<line x1="370.50" y1="234.40" x2="379.00" y2="234.40" stroke="#000" stroke-width="1.0"/>
<rect x="367.50" y="236.40" width="14.30" height="25.00" fill="#fff" stroke="#000" stroke-width="1.0"/>
<line x1="396.50" y1="237.00" x2="396.50" y2="237.70" stroke="#000" stroke-width="1.0"/>
<line x1="392.50" y1="237.00" x2="400.50" y2="237.00" stroke="#000" stroke-width="1.0"/>
<rect x="389.50" y="237.70" width="14.00" height="23.70" fill="#000" stroke="#000" stroke-width="1.0"/>
<text transform="translate(342.40 249.05) rotate(-90)" font-size="7" text-anchor="middle" stroke="#000" stroke-width="0.5">U.A.</text>
<line x1="150.80" y1="358.40" x2="150.80" y2="389.30" stroke="#000" stroke-width="1.0"/>
<line x1="146.30" y1="388.80" x2="194.00" y2="388.80" stroke="#000" stroke-width="1.0"/>
<text transform="translate(143.80 391.11)" font-size="7.1" text-anchor="end" stroke="#000" stroke-width="0.5">0</text>
<line x1="146.30" y1="373.85" x2="150.80" y2="373.85" stroke="#000" stroke-width="1.0"/>
<text transform="translate(142.30 376.16)" font-size="7.1" text-anchor="end" stroke="#000" stroke-width="0.5">750</text>
<line x1="146.30" y1="358.90" x2="150.80" y2="358.90" stroke="#000" stroke-width="1.0"/>
<text transform="translate(142.30 361.21)" font-size="7.1" text-anchor="end" stroke="#000" stroke-width="0.5">1500</text>
<line x1="161.15" y1="368.60" x2="161.15" y2="369.50" stroke="#000" stroke-width="1.0"/>
<line x1="157.00" y1="368.60" x2="165.50" y2="368.60" stroke="#000" stroke-width="1.0"/>
<rect x="153.50" y="369.50" width="15.30" height="19.30" fill="#fff" stroke="#000" stroke-width="1.0"/>
<line x1="183.15" y1="373.80" x2="183.15" y2="374.60" stroke="#000" stroke-width="1.0"/>
<line x1="179.00" y1="373.80" x2="187.00" y2="373.80" stroke="#000" stroke-width="1.0"/>
<rect x="175.80" y="374.60" width="14.70" height="14.20" fill="#000" stroke="#000" stroke-width="1.0"/>
<text transform="translate(127.50 376.65) rotate(-90)" font-size="7" text-anchor="middle" stroke="#000" stroke-width="0.5">U.A.</text>
<text transform="translate(182.80 374.48) scale(1.1 1)" font-size="7.4" text-anchor="middle" stroke="#000" stroke-width="0.6">***</text>
<line x1="364.50" y1="358.70" x2="364.50" y2="388.80" stroke="#000" stroke-width="1.0"/>
<line x1="360.00" y1="388.30" x2="408.00" y2="388.30" stroke="#000" stroke-width="1.0"/>
<text transform="translate(357.50 390.61)" font-size="7.1" text-anchor="end" stroke="#000" stroke-width="0.5">0</text>
<line x1="360.00" y1="373.75" x2="364.50" y2="373.75" stroke="#000" stroke-width="1.0"/>
<text transform="translate(356.00 376.06)" font-size="7.1" text-anchor="end" stroke="#000" stroke-width="0.5">750</text>
<line x1="360.00" y1="359.20" x2="364.50" y2="359.20" stroke="#000" stroke-width="1.0"/>
<text transform="translate(356.00 361.51)" font-size="7.1" text-anchor="end" stroke="#000" stroke-width="0.5">1500</text>
<line x1="374.65" y1="367.00" x2="374.65" y2="368.60" stroke="#000" stroke-width="1.0"/>
<line x1="370.50" y1="367.00" x2="379.00" y2="367.00" stroke="#000" stroke-width="1.0"/>
<rect x="367.50" y="368.60" width="14.30" height="19.70" fill="#fff" stroke="#000" stroke-width="1.0"/>
<line x1="396.50" y1="366.00" x2="396.50" y2="368.20" stroke="#000" stroke-width="1.0"/>
<line x1="392.50" y1="366.00" x2="400.50" y2="366.00" stroke="#000" stroke-width="1.0"/>
<rect x="389.50" y="368.20" width="14.00" height="20.10" fill="#000" stroke="#000" stroke-width="1.0"/>
<text transform="translate(342.40 376.55) rotate(-90)" font-size="7" text-anchor="middle" stroke="#000" stroke-width="0.5">U.A.</text>
<rect x="424.9" y="304.8" width="94.6" height="36.2" fill="#fff" stroke="#000" stroke-width="1.25"/>
<rect x="443.6" y="312.9" width="10.6" height="5.6" fill="#fff" stroke="#000" stroke-width="0.9"/>
<rect x="443.2" y="326" width="11.4" height="6.2" fill="#000"/>
<text transform="translate(474.30 317.90)" font-size="8" text-anchor="middle" font-weight="bold" stroke="#000" stroke-width="0.35">ovx</text>
<text transform="translate(475.80 331.30)" font-size="8" text-anchor="middle" font-weight="bold" stroke="#000" stroke-width="0.35">ovx +E2</text>
<line x1="498.30" y1="314.90" x2="512.30" y2="314.90" stroke="#000" stroke-width="1"/>
<circle cx="505.1" cy="314.9" r="2.1" fill="#fff" stroke="#000" stroke-width="1"/>
<line x1="498.30" y1="329.00" x2="512.30" y2="329.00" stroke="#000" stroke-width="1"/>
<polygon points="500.9,331.5 509.3,331.5 505.1,324.4" fill="#000"/>
</svg></body></html>
